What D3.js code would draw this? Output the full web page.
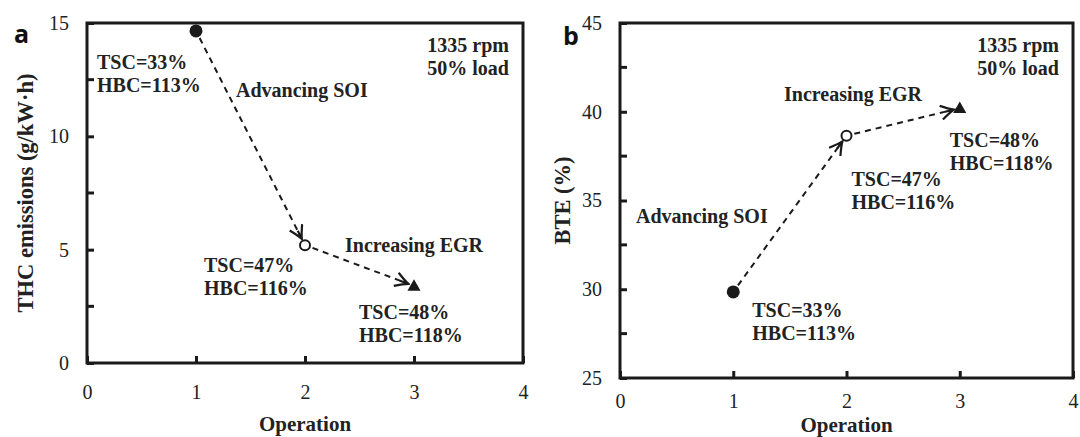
<!DOCTYPE html>
<html>
<head>
<meta charset="utf-8">
<script src="https://cdn.jsdelivr.net/npm/d3@7"></script>
<style>
  body { margin: 0; background: #fff; }
  text { font-family: "Liberation Serif", "Times New Roman", serif; fill: #222; }
  .bold { font-weight: bold; }
  .panel-tag { font-family: "Open Sans", sans-serif; font-weight: bold; fill: #111; }
</style>
</head>
<body>
<svg id="chart" width="1080" height="437"></svg>
<script>
// data
const operation = [1, 2, 3];
const thc = [14.65, 5.2, 3.4];
const bte = [29.85, 38.65, 40.2];
const tsc = ["33%", "47%", "48%"];
const hbc = ["113%", "116%", "118%"];
const markerShapes = ["filled", "open", "triangle"];

const xTicks = [0, 1, 2, 3, 4];
const thcTicks = [0, 5, 10, 15];
const thcMinor = [2.5, 7.5, 12.5];
const bteTicks = [25, 30, 35, 40, 45];
const bteMinor = [27.5, 32.5, 37.5, 42.5];

const svg = d3.select("#chart");

// arrowhead
svg.append("defs").append("marker")
  .attr("id", "arrow")
  .attr("viewBox", "-14 -8 16 16")
  .attr("refX", 0).attr("refY", 0)
  .attr("markerWidth", 16).attr("markerHeight", 16)
  .attr("markerUnits", "userSpaceOnUse")
  .attr("orient", "auto")
  .append("path")
  .attr("d", "M-13,-7 Q-5,-2 0,0 Q-5,2 -13,7 M-9,0 L0,0")
  .attr("fill", "none")
  .attr("stroke", "#1a1a1a")
  .attr("stroke-width", 2.2)
  .attr("stroke-dasharray", "none");

function panel(opt) {
  const g = svg.append("g");
  const x = d3.scaleLinear().domain([0, 4]).range([opt.left, opt.right]);
  const y = d3.scaleLinear().domain(opt.domain).range([opt.bottom, opt.top]);

  // frame
  g.append("rect")
    .attr("x", opt.left).attr("y", opt.top)
    .attr("width", opt.right - opt.left).attr("height", opt.bottom - opt.top)
    .attr("fill", "none").attr("stroke", "#1a1a1a").attr("stroke-width", 3);

  // y axis
  const ya = g.append("g")
    .attr("transform", `translate(${opt.left},0)`)
    .call(d3.axisLeft(y).tickValues(opt.yTicks).tickFormat(d3.format("d"))
      .tickSizeInner(-7).tickSizeOuter(0).tickPadding(18));
  ya.select(".domain").remove();
  ya.selectAll("line").attr("stroke", "#1a1a1a").attr("stroke-width", 3);
  ya.selectAll("text").attr("font-size", 20).attr("fill", "#333")
    .style("font-family", "Liberation Serif");

  g.append("g").selectAll("line")
    .data(opt.yMinor).join("line")
    .attr("x1", opt.left).attr("x2", opt.left + 7)
    .attr("y1", d => y(d)).attr("y2", d => y(d))
    .attr("stroke", "#1a1a1a").attr("stroke-width", 3);

  // x axis
  const xa = g.append("g")
    .attr("transform", `translate(0,${opt.bottom})`)
    .call(d3.axisBottom(x).tickValues(xTicks).tickFormat(d3.format("d"))
      .tickSizeInner(-7).tickSizeOuter(0).tickPadding(opt.xPad));
  xa.select(".domain").remove();
  xa.selectAll("line").attr("stroke", "#1a1a1a").attr("stroke-width", 3);
  xa.selectAll("text").attr("font-size", 20).attr("fill", "#333")
    .style("font-family", "Liberation Serif");

  // axis titles
  g.append("text").attr("class", "bold")
    .attr("x", (opt.left + opt.right) / 2).attr("y", opt.xTitleY)
    .attr("text-anchor", "middle").attr("font-size", 21)
    .text("Operation");
  g.append("text").attr("class", "bold")
    .attr("transform", `translate(${opt.yTitleX},${(opt.top + opt.bottom) / 2}) rotate(-90)`)
    .attr("text-anchor", "middle").attr("dy", "0.35em").attr("font-size", 22.5)
    .text(opt.yTitle);

  // panel tag
  g.append("text").attr("class", "panel-tag")
    .attr("x", opt.tagX).attr("y", opt.tagY).attr("font-size", 25)
    .text(opt.tag);

  // arrows between operating points
  const pts = operation.map((o, i) => [x(o), y(opt.values[i])]);
  const gap = [7, 6];
  for (let i = 0; i < pts.length - 1; i++) {
    const [x0, y0] = pts[i], [x1, y1] = pts[i + 1];
    const len = Math.hypot(x1 - x0, y1 - y0);
    const ux = (x1 - x0) / len, uy = (y1 - y0) / len;
    g.append("line")
      .attr("x1", x0 + ux * 8).attr("y1", y0 + uy * 8)
      .attr("x2", x1 - ux * gap[i]).attr("y2", y1 - uy * gap[i])
      .attr("stroke", "#1a1a1a").attr("stroke-width", 2)
      .attr("stroke-dasharray", "6,5")
      .attr("marker-end", "url(#arrow)");
  }

  // markers
  pts.forEach(([px, py], i) => {
    const s = markerShapes[i];
    if (s === "filled") {
      g.append("circle").attr("cx", px).attr("cy", py).attr("r", 6.5).attr("fill", "#1a1a1a");
    } else if (s === "open") {
      g.append("circle").attr("cx", px).attr("cy", py).attr("r", 5)
        .attr("fill", "#fff").attr("stroke", "#1a1a1a").attr("stroke-width", 2);
    } else {
      g.append("path")
        .attr("transform", `translate(${px},${py + 1})`)
        .attr("d", d3.symbol(d3.symbolTriangle, 75)())
        .attr("fill", "#1a1a1a");
    }
  });

  // TSC / HBC labels
  pts.forEach(([px, py], i) => {
    const [dx, dy] = opt.labelOffsets[i];
    const t = g.append("text").attr("class", "bold").attr("font-size", 20)
      .attr("x", px + dx).attr("y", py + dy);
    t.append("tspan").attr("x", px + dx).text("TSC=" + tsc[i]);
    t.append("tspan").attr("x", px + dx).attr("dy", 23).text("HBC=" + hbc[i]);
  });

  // condition note
  const note = g.append("text").attr("class", "bold").attr("font-size", 20)
    .attr("text-anchor", "end").attr("x", opt.right - 14).attr("y", opt.top + 29);
  note.append("tspan").attr("x", opt.right - 14).text("1335 rpm");
  note.append("tspan").attr("x", opt.right - 14).attr("dy", 23).text("50% load");

  // arrow captions
  opt.captions.forEach(c => {
    g.append("text").attr("class", "bold").attr("font-size", 20)
      .attr("x", c.x).attr("y", c.y).text(c.text);
  });
}

panel({
  left: 87, right: 523, top: 23, bottom: 363,
  domain: [0, 15], yTicks: thcTicks, yMinor: thcMinor,
  values: thc, xPad: 22, xTitleY: 431,
  yTitle: "THC emissions (g/kW·h)", yTitleX: 25,
  tag: "a", tagX: 14, tagY: 43,
  labelOffsets: [[-99, 38], [-101, 27], [-55, 33]],
  captions: [
    { text: "Advancing SOI", x: 236, y: 97 },
    { text: "Increasing EGR", x: 345, y: 252 }
  ]
});

panel({
  left: 620, right: 1073, top: 23, bottom: 378,
  domain: [25, 45], yTicks: bteTicks, yMinor: bteMinor,
  values: bte, xPad: 16, xTitleY: 432,
  yTitle: "BTE (%)", yTitleX: 562,
  tag: "b", tagX: 563, tagY: 45,
  labelOffsets: [[19, 25], [5, 50], [-10, 39]],
  captions: [
    { text: "Advancing SOI", x: 636, y: 223 },
    { text: "Increasing EGR", x: 784, y: 101 }
  ]
});
</script>
</body>
</html>
